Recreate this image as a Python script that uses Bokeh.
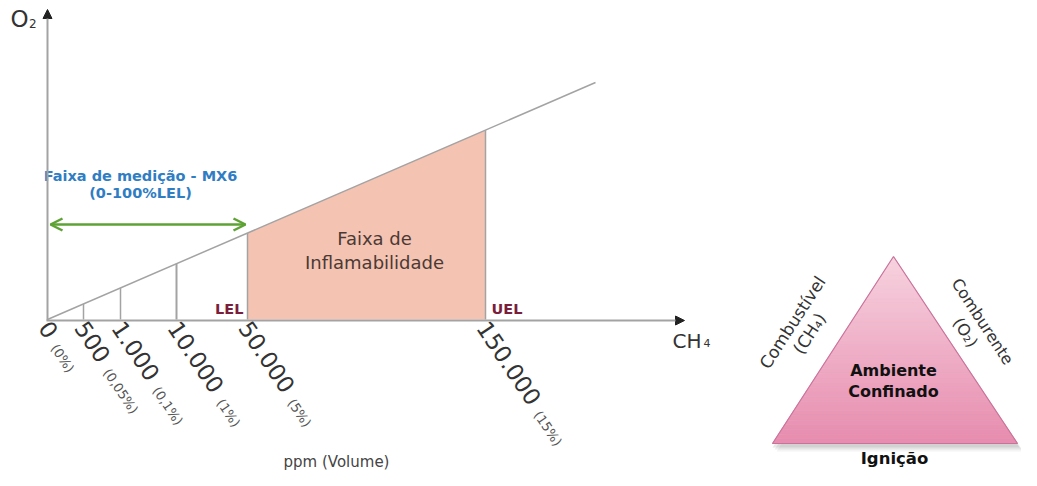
import math
from bokeh.plotting import figure
from bokeh.models import Range1d, Arrow, NormalHead, OpenHead
from bokeh.core.properties import value
from bokeh.embed import file_html
from bokeh.resources import INLINE

# ---------------- data ----------------
ppm_labels = ["0", "500", "1.000", "10.000", "50.000", "150.000"]
pct_labels = ["(0%)", "(0,05%)", "(0,1%)", "(1%)", "(5%)", "(15%)"]
region_title = ["Faixa de", "Inflamabilidade"]
range_title = ["Faixa de medição - MX6", "(0-100%LEL)"]
limit_labels = ["LEL", "UEL"]
triangle_center = ["Ambiente", "Confinado"]
side_left = ["Combustível", "(CH₄)"]
side_right = ["Comburente", "(O₂)"]
bottom_label = "Ignição"
x_title = "ppm (Volume)"

# ---------------- layout (pixel space of the picture) ----------------
tick_px = [47, 83, 120, 176, 247, 485]
origin = (47, 319)
diag_end = (595, 82)
lel_px, uel_px = 247, 485
FONT = value("DejaVu Sans")

def Y(py):
    return -py

slope = (origin[1] - diag_end[1]) / (diag_end[0] - origin[0])
def diag_y(px):
    return origin[1] - (px - origin[0]) * slope

p = figure(width=1021, height=470, x_range=Range1d(0, 1021), y_range=Range1d(-470, 0),
           output_backend="svg", toolbar_location=None, min_border=0,
           x_axis_type=None, y_axis_type=None)
p.grid.visible = False
p.outline_line_color = None
p.background_fill_color = "white"
p.border_fill_color = "white"

GRAY = "#A3A3A3"

def txt(x, y, t, size, color, align="center", bold=False, angle=0.0):
    p.text(x=x, y=y, text=t, angle=angle, angle_units="deg", text_font=FONT,
           text_font_size=f"{size}px", text_font_style="bold" if bold else "normal",
           text_color=color, text_baseline="middle", text_align=align)

# flammable region
p.patch([lel_px, lel_px, uel_px, uel_px],
        [Y(319), Y(diag_y(lel_px)), Y(diag_y(uel_px)), Y(319)],
        fill_color="#F5C3B2", line_color=None)
p.segment(x0=[lel_px, uel_px], y0=[Y(319), Y(319)], x1=[lel_px, uel_px],
          y1=[Y(diag_y(lel_px)), Y(diag_y(uel_px))], line_color=GRAY, line_width=1.5)

# diagonal
p.line([origin[0], diag_end[0]], [Y(origin[1]), Y(diag_end[1])], line_color=GRAY, line_width=1.5)

# vertical markers at ticks
vx = tick_px[1:4]
p.segment(x0=vx, y0=[Y(319)] * 3, x1=vx, y1=[Y(diag_y(x)) for x in vx],
          line_color=GRAY, line_width=[1.5, 1.5, 2])

# axes with arrow heads
p.add_layout(Arrow(end=NormalHead(size=9, fill_color="#222222", line_color="#222222"),
                   x_start=47, y_start=Y(320), x_end=47, y_end=Y(9),
                   line_color=GRAY, line_width=2))
p.add_layout(Arrow(end=NormalHead(size=9, fill_color="#222222", line_color="#222222"),
                   x_start=46, y_start=Y(320), x_end=684, y_end=Y(320),
                   line_color=GRAY, line_width=2))

# green measuring range arrow
p.add_layout(Arrow(start=OpenHead(size=12, line_color="#5EA234", line_width=2.5),
                   end=OpenHead(size=12, line_color="#5EA234", line_width=2.5),
                   x_start=50, y_start=Y(224), x_end=245, y_end=Y(224),
                   line_color="#5EA234", line_width=2.5))

# axis titles
txt([10], [Y(18.5)], ["O"], 23, "#333333", align="left")
txt([28.5], [Y(22.5)], ["2"], 12, "#333333", align="left")
txt([672], [Y(340)], ["CH"], 20, "#333333", align="left")
txt([703], [Y(342.5)], ["4"], 11, "#333333", align="left")
txt([336], [Y(461)], [x_title], 15, "#444444")

# tick labels (rotated)
W = {c: 0.636 for c in "0123456789"}
W.update({".": 0.318, ",": 0.318, "(": 0.390, ")": 0.390, "%": 0.950})
BIG, SMALL = 23, 13
ang = -56.0
dx, dy = math.cos(math.radians(ang)), math.sin(math.radians(ang))
ux, uy = -dy, dx
drop = 4.5
bx, by, sx, sy = [], [], [], []
for t, lab in zip(tick_px, ppm_labels):
    x0, y0 = t - 3, Y(323)
    bx.append(x0); by.append(y0)
    wb = sum(W[c] for c in lab) * BIG + 9
    sx.append(x0 + dx * wb - ux * drop); sy.append(y0 + dy * wb - uy * drop)
txt(bx, by, ppm_labels, BIG, "#333333", align="left", angle=ang)
txt(sx, sy, pct_labels, SMALL, "#555555", align="left", angle=ang)

# region title
txt([374, 374], [Y(238), Y(262)], region_title, 18, "#4A3A35")

# LEL / UEL
txt([243], [Y(308)], [limit_labels[0]], 14.5, "#7A1E3C", align="right", bold=True)
txt([491], [Y(308)], [limit_labels[1]], 14.5, "#7A1E3C", align="left", bold=True)

# measuring range title
txt([140, 140], [Y(175), Y(192)], range_title, 14.5, "#2F7DC3", bold=True)

# ---------------- fire triangle ----------------
top = (893, 256)
bl = (772, 443)
br = (1017, 443)

# soft shadow
for off, a in [((6, 8), 0.08), ((4, 6), 0.12), ((2, 4), 0.16)]:
    p.patch([bl[0] + off[0] - 2, top[0] + off[0], br[0] + off[0]],
            [Y(bl[1] + off[1]), Y(top[1] + off[1]), Y(br[1] + off[1])],
            fill_color="#777777", fill_alpha=a, line_color=None)

# vertical colour gradient
N = 40
c_top = (247, 210, 223)
c_bot = (231, 140, 174)
xs, ys, cols = [], [], []
H = bl[1] - top[1]
def lx(y): return top[0] - (y - top[1]) / H * (top[0] - bl[0])
def rx(y): return top[0] + (y - top[1]) / H * (br[0] - top[0])
for i in range(N):
    y0 = top[1] + H * i / N
    y1 = top[1] + H * (i + 1) / N
    xs.append([lx(y0), rx(y0), rx(y1), lx(y1)])
    ys.append([Y(y0), Y(y0), Y(y1), Y(y1)])
    f = (i + 0.5) / N
    c = tuple(int(round(c_top[k] + (c_bot[k] - c_top[k]) * f)) for k in range(3))
    cols.append("#%02x%02x%02x" % c)
p.patches(xs, ys, fill_color=cols, line_color=cols, line_width=0.6)
p.patch([bl[0], top[0], br[0]], [Y(bl[1]), Y(top[1]), Y(br[1])],
        fill_color=None, line_color="#C9729A", line_width=1.2)

txt([893, 893], [Y(370), Y(391)], triangle_center, 16, "#111111", bold=True)
txt([894], [Y(457.5)], [bottom_label], 16.5, "#111111", bold=True)
txt([792, 809], [Y(322), Y(333)], side_left, 17, "#333333", angle=57)
txt([982, 965], [Y(321), Y(332)], side_right, 16, "#333333", angle=-57)

open("out.html", "w").write(file_html(p, INLINE))
